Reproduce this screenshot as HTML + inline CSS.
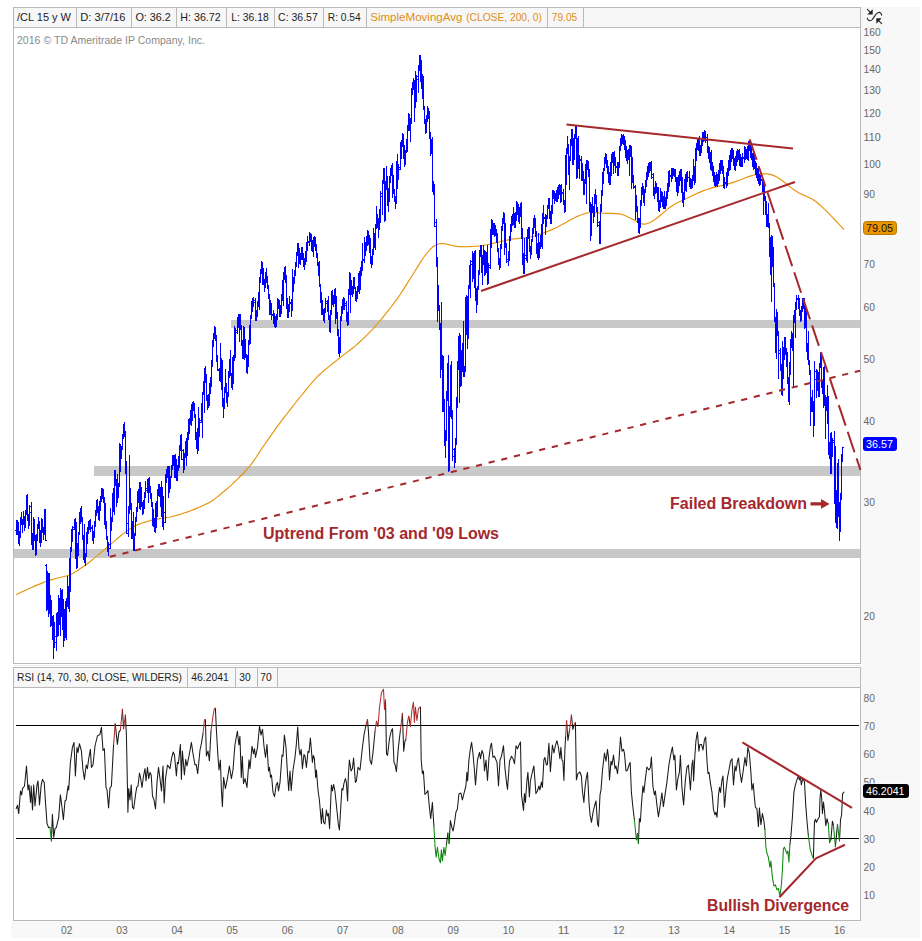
<!DOCTYPE html>
<html><head><meta charset="utf-8"><title>/CL 15 y W</title>
<style>html,body{margin:0;padding:0;background:#fff;width:922px;height:941px;overflow:hidden;font-family:"Liberation Sans",sans-serif}</style></head>
<body>
<svg width="922" height="941" viewBox="0 0 922 941" style="position:absolute;left:0;top:0;font-family:'Liberation Sans',sans-serif">
<rect width="922" height="941" fill="#fff"/>
<rect x="861" y="7" width="59" height="931" fill="#f8f8f8"/>
<rect x="11" y="921" width="909" height="17" fill="#f8f8f8"/>
<rect x="13.5" y="7.5" width="847" height="20" fill="#f7f7f7" stroke="#b9b9b9"/>
<rect x="13.5" y="667.5" width="847" height="20" fill="#f7f7f7" stroke="#b9b9b9"/>
<g fill="#b9b9b9" shape-rendering="crispEdges">
<rect x="13" y="28" width="1" height="636"/>
<rect x="860" y="28" width="1" height="636"/>
<rect x="13" y="663" width="848" height="1"/>
<rect x="13" y="688" width="1" height="233"/>
<rect x="860" y="688" width="1" height="233"/>
<rect x="13" y="920" width="848" height="1"/>
<rect x="76" y="8" width="1" height="19"/>
<rect x="131" y="8" width="1" height="19"/>
<rect x="176" y="8" width="1" height="19"/>
<rect x="226" y="8" width="1" height="19"/>
<rect x="274" y="8" width="1" height="19"/>
<rect x="323" y="8" width="1" height="19"/>
<rect x="366" y="8" width="1" height="19"/>
<rect x="547" y="8" width="1" height="19"/>
<rect x="583" y="8" width="1" height="19"/>
<rect x="187" y="668" width="1" height="19"/>
<rect x="235" y="668" width="1" height="19"/>
<rect x="257" y="668" width="1" height="19"/>
<rect x="277" y="668" width="1" height="19"/>
</g>
<rect x="14" y="665" width="846" height="1" fill="#ececec" shape-rendering="crispEdges"/>
<g fill="#c8c8c8" shape-rendering="crispEdges">
<rect x="231" y="320" width="629" height="8"/>
<rect x="94" y="466" width="766" height="10"/>
<rect x="14" y="549" width="846" height="9"/>
</g>
<polyline fill="none" stroke="#e8940a" stroke-width="1.15" stroke-linejoin="round"  points="16.0,594.7 19.0,593.3 22.0,591.8 25.0,590.4 28.0,589.0 31.0,587.7 34.0,586.4 37.0,585.1 40.0,583.9 43.0,582.6 46.0,581.5 49.0,580.4 52.0,579.6 55.0,578.8 58.0,578.0 61.0,577.3 64.0,576.5 67.0,575.7 70.0,574.7 73.0,573.3 76.0,571.5 79.0,569.6 82.0,567.6 85.0,565.5 88.0,563.2 91.0,560.8 94.0,558.4 97.0,555.9 100.0,553.4 103.0,550.8 106.0,548.3 109.0,545.7 112.0,543.1 115.0,540.6 118.0,538.0 121.0,535.5 124.0,533.1 127.0,530.8 130.0,528.8 133.0,526.9 136.0,525.4 139.0,524.1 142.0,523.0 145.0,522.1 148.0,521.2 151.0,520.4 154.0,519.7 157.0,519.1 160.0,518.6 163.0,518.2 166.0,517.7 169.0,517.2 172.0,516.5 175.0,515.7 178.0,514.9 181.0,514.0 184.0,513.0 187.0,512.1 190.0,511.0 193.0,509.9 196.0,508.6 199.0,507.3 202.0,506.0 205.0,504.6 208.0,503.2 211.0,501.4 214.0,499.4 217.0,497.1 220.0,494.7 223.0,492.2 226.0,489.7 229.0,487.1 232.0,484.4 235.0,481.5 238.0,478.6 241.0,475.5 244.0,472.5 247.0,469.4 250.0,465.9 253.0,461.9 256.0,457.5 259.0,452.9 262.0,448.4 265.0,444.0 268.0,439.7 271.0,435.4 274.0,431.2 277.0,426.9 280.0,422.8 283.0,418.8 286.0,415.0 289.0,411.1 292.0,407.3 295.0,403.5 298.0,399.7 301.0,396.0 304.0,392.3 307.0,388.6 310.0,385.0 313.0,381.4 316.0,378.1 319.0,375.0 322.0,372.4 325.0,369.8 328.0,367.4 331.0,364.9 334.0,362.5 337.0,360.1 340.0,357.7 343.0,355.4 346.0,353.1 349.0,350.8 352.0,348.5 355.0,346.1 358.0,343.5 361.0,340.8 364.0,337.8 367.0,334.9 370.0,331.8 373.0,328.8 376.0,325.5 379.0,322.0 382.0,318.3 385.0,314.6 388.0,310.8 391.0,307.0 394.0,303.2 397.0,299.1 400.0,294.7 403.0,290.1 406.0,285.4 409.0,280.6 412.0,275.8 415.0,271.0 418.0,266.1 421.0,261.4 424.0,257.0 427.0,253.0 430.0,249.5 433.0,246.7 436.0,244.9 439.0,243.8 442.0,243.5 445.0,243.7 448.0,244.4 451.0,245.2 454.0,245.9 457.0,246.4 460.0,246.6 463.0,246.6 466.0,246.7 469.0,246.6 472.0,246.5 475.0,246.3 478.0,246.1 481.0,245.7 484.0,245.2 487.0,244.7 490.0,244.1 493.0,243.4 496.0,242.7 499.0,242.0 502.0,241.3 505.0,240.5 508.0,239.9 511.0,239.3 514.0,238.9 517.0,238.6 520.0,238.2 523.0,237.9 526.0,237.6 529.0,237.2 532.0,236.6 535.0,235.8 538.0,234.9 541.0,233.9 544.0,232.8 547.0,231.6 550.0,230.4 553.0,229.1 556.0,227.7 559.0,226.2 562.0,224.6 565.0,222.9 568.0,221.2 571.0,219.6 574.0,218.0 577.0,216.6 580.0,215.3 583.0,214.2 586.0,213.3 589.0,212.7 592.0,212.5 595.0,212.6 598.0,212.9 601.0,213.1 604.0,213.3 607.0,213.4 610.0,213.4 613.0,213.4 616.0,213.6 619.0,213.9 622.0,214.5 625.0,215.5 628.0,216.9 631.0,218.4 634.0,220.1 637.0,221.7 640.0,223.2 643.0,224.1 646.0,224.0 649.0,223.0 652.0,221.4 655.0,219.5 658.0,217.3 661.0,214.8 664.0,212.1 667.0,209.6 670.0,207.3 673.0,205.3 676.0,203.5 679.0,202.0 682.0,200.6 685.0,199.2 688.0,197.8 691.0,196.3 694.0,194.8 697.0,193.4 700.0,192.1 703.0,190.9 706.0,189.8 709.0,188.9 712.0,187.9 715.0,187.1 718.0,186.4 721.0,185.7 724.0,185.0 727.0,184.2 730.0,183.4 733.0,182.4 736.0,181.4 739.0,180.3 742.0,179.2 745.0,178.0 748.0,176.9 751.0,175.9 754.0,175.0 757.0,174.4 760.0,174.0 763.0,173.8 766.0,173.8 769.0,174.1 772.0,174.9 775.0,176.1 778.0,177.7 781.0,179.7 784.0,182.0 787.0,184.4 790.0,186.9 793.0,189.1 796.0,191.1 799.0,192.9 802.0,194.4 805.0,195.7 808.0,197.0 811.0,198.5 814.0,200.3 817.0,202.5 820.0,205.0 823.0,207.8 826.0,210.7 829.0,213.7 832.0,216.9 835.0,220.0 838.0,223.2 841.0,226.4 843.8,229.5"/>
<path fill="#0000ff" shape-rendering="crispEdges" d="M16 520h1V535h-1zM15 530h1v1h-1zM17 525h1v1h-1zM17 520h1V535h-1zM16 527h1v1h-1zM18 526h1v1h-1zM18 522h1V544h-1zM17 523h1v1h-1zM19 542h1v1h-1zM19 531h1V546h-1zM18 539h1v1h-1zM20 534h1v1h-1zM20 517h1V538h-1zM19 537h1v1h-1zM21 517h1v1h-1zM21 512h1V525h-1zM20 520h1v1h-1zM22 524h1v1h-1zM22 519h1V533h-1zM21 522h1v1h-1zM23 521h1v1h-1zM23 511h1V525h-1zM22 524h1v1h-1zM24 519h1v1h-1zM24 516h1V531h-1zM23 516h1v1h-1zM25 524h1v1h-1zM25 510h1V528h-1zM24 527h1v1h-1zM26 510h1v1h-1zM26 495h1V515h-1zM25 512h1v1h-1zM27 496h1v1h-1zM27 494h1V521h-1zM26 498h1v1h-1zM28 520h1v1h-1zM28 514h1V529h-1zM27 518h1v1h-1zM29 521h1v1h-1zM29 505h1V526h-1zM28 525h1v1h-1zM30 512h1v1h-1zM31 502h1V545h-1zM30 506h1v1h-1zM32 544h1v1h-1zM32 533h1V550h-1zM31 539h1v1h-1zM33 535h1v1h-1zM33 517h1V550h-1zM32 538h1v1h-1zM34 520h1v1h-1zM34 519h1V541h-1zM33 521h1v1h-1zM35 540h1v1h-1zM35 535h1V556h-1zM34 537h1v1h-1zM36 551h1v1h-1zM36 534h1V555h-1zM35 554h1v1h-1zM37 536h1v1h-1zM37 524h1V541h-1zM36 539h1v1h-1zM38 524h1v1h-1zM38 517h1V529h-1zM37 526h1v1h-1zM39 526h1v1h-1zM39 521h1V543h-1zM38 524h1v1h-1zM40 542h1v1h-1zM40 530h1V547h-1zM39 540h1v1h-1zM41 538h1v1h-1zM41 518h1V543h-1zM40 540h1v1h-1zM42 525h1v1h-1zM42 519h1V533h-1zM41 528h1v1h-1zM43 529h1v1h-1zM43 527h1V540h-1zM42 527h1v1h-1zM44 531h1v1h-1zM44 509h1V535h-1zM43 534h1v1h-1zM45 515h1v1h-1zM45 509h1V541h-1zM44 512h1v1h-1zM46 540h1v1h-1zM46 564h1V611h-1zM45 565h1v1h-1zM47 605h1v1h-1zM47 571h1V610h-1zM46 604h1v1h-1zM48 582h1v1h-1zM48 573h1V617h-1zM47 575h1v1h-1zM49 606h1v1h-1zM49 573h1V614h-1zM48 613h1v1h-1zM50 604h1v1h-1zM50 595h1V627h-1zM49 597h1v1h-1zM51 611h1v1h-1zM51 600h1V626h-1zM50 616h1v1h-1zM52 625h1v1h-1zM52 616h1V640h-1zM51 617h1v1h-1zM53 619h1v1h-1zM53 615h1V659h-1zM52 625h1v1h-1zM54 641h1v1h-1zM54 622h1V648h-1zM53 647h1v1h-1zM55 642h1v1h-1zM56 613h1V651h-1zM55 636h1v1h-1zM57 614h1v1h-1zM57 612h1V637h-1zM56 620h1v1h-1zM58 634h1v1h-1zM58 595h1V636h-1zM57 630h1v1h-1zM59 602h1v1h-1zM59 598h1V625h-1zM58 604h1v1h-1zM60 619h1v1h-1zM60 588h1V636h-1zM59 623h1v1h-1zM61 597h1v1h-1zM61 590h1V617h-1zM60 592h1v1h-1zM62 607h1v1h-1zM62 589h1V630h-1zM61 612h1v1h-1zM63 612h1v1h-1zM63 599h1V647h-1zM62 602h1v1h-1zM64 626h1v1h-1zM64 609h1V641h-1zM63 634h1v1h-1zM65 633h1v1h-1zM65 601h1V638h-1zM64 627h1v1h-1zM66 612h1v1h-1zM66 598h1V640h-1zM65 605h1v1h-1zM67 601h1v1h-1zM67 576h1V607h-1zM66 606h1v1h-1zM68 604h1v1h-1zM68 586h1V609h-1zM67 601h1v1h-1zM69 594h1v1h-1zM69 558h1V612h-1zM68 591h1v1h-1zM70 560h1v1h-1zM70 547h1V592h-1zM69 567h1v1h-1zM71 548h1v1h-1zM71 529h1V552h-1zM70 550h1v1h-1zM72 539h1v1h-1zM72 526h1V542h-1zM71 541h1v1h-1zM73 527h1v1h-1zM74 519h1V530h-1zM73 529h1v1h-1zM75 520h1v1h-1zM75 518h1V559h-1zM74 521h1v1h-1zM76 547h1v1h-1zM76 522h1V569h-1zM75 541h1v1h-1zM77 563h1v1h-1zM77 543h1V568h-1zM76 566h1v1h-1zM78 545h1v1h-1zM78 532h1V556h-1zM77 548h1v1h-1zM79 533h1v1h-1zM79 512h1V535h-1zM78 534h1v1h-1zM80 521h1v1h-1zM80 508h1V524h-1zM79 523h1v1h-1zM81 509h1v1h-1zM81 506h1V522h-1zM80 511h1v1h-1zM82 521h1v1h-1zM82 517h1V540h-1zM81 517h1v1h-1zM83 538h1v1h-1zM83 535h1V560h-1zM82 536h1v1h-1zM84 552h1v1h-1zM84 524h1V563h-1zM83 550h1v1h-1zM85 561h1v1h-1zM85 553h1V566h-1zM84 560h1v1h-1zM86 554h1v1h-1zM86 532h1V557h-1zM85 556h1v1h-1zM87 539h1v1h-1zM87 527h1V544h-1zM86 541h1v1h-1zM88 530h1v1h-1zM88 521h1V534h-1zM87 530h1v1h-1zM89 525h1v1h-1zM89 520h1V530h-1zM88 526h1v1h-1zM90 521h1v1h-1zM90 519h1V532h-1zM89 522h1v1h-1zM91 528h1v1h-1zM92 525h1V541h-1zM91 527h1v1h-1zM93 539h1v1h-1zM93 531h1V544h-1zM92 537h1v1h-1zM94 534h1v1h-1zM94 521h1V538h-1zM93 536h1v1h-1zM95 523h1v1h-1zM95 510h1V527h-1zM94 525h1v1h-1zM96 512h1v1h-1zM96 500h1V516h-1zM95 514h1v1h-1zM97 501h1v1h-1zM97 499h1V513h-1zM96 503h1v1h-1zM98 509h1v1h-1zM98 506h1V520h-1zM97 507h1v1h-1zM99 519h1v1h-1zM99 501h1V521h-1zM98 518h1v1h-1zM100 509h1v1h-1zM100 496h1V511h-1zM99 510h1v1h-1zM101 498h1v1h-1zM101 488h1V502h-1zM100 499h1v1h-1zM102 490h1v1h-1zM102 488h1V499h-1zM101 489h1v1h-1zM103 494h1v1h-1zM103 489h1V503h-1zM102 493h1v1h-1zM104 498h1v1h-1zM104 497h1V525h-1zM103 497h1v1h-1zM105 509h1v1h-1zM105 503h1V529h-1zM104 506h1v1h-1zM106 526h1v1h-1zM106 521h1V540h-1zM105 523h1v1h-1zM107 539h1v1h-1zM107 536h1V552h-1zM106 537h1v1h-1zM108 548h1v1h-1zM108 542h1V556h-1zM107 546h1v1h-1zM109 544h1v1h-1zM110 508h1V549h-1zM109 548h1v1h-1zM111 527h1v1h-1zM111 517h1V531h-1zM110 529h1v1h-1zM112 518h1v1h-1zM112 493h1V522h-1zM111 519h1v1h-1zM113 509h1v1h-1zM113 488h1V512h-1zM112 510h1v1h-1zM114 498h1v1h-1zM114 470h1V515h-1zM113 502h1v1h-1zM115 472h1v1h-1zM115 470h1V486h-1zM114 476h1v1h-1zM116 484h1v1h-1zM116 479h1V507h-1zM115 482h1v1h-1zM117 497h1v1h-1zM117 474h1V503h-1zM116 495h1v1h-1zM118 494h1v1h-1zM118 483h1V498h-1zM117 496h1v1h-1zM119 484h1v1h-1zM119 443h1V487h-1zM118 486h1v1h-1zM120 469h1v1h-1zM120 444h1V472h-1zM119 471h1v1h-1zM121 456h1v1h-1zM121 446h1V459h-1zM120 458h1v1h-1zM122 447h1v1h-1zM122 434h1V450h-1zM121 448h1v1h-1zM123 436h1v1h-1zM123 424h1V439h-1zM122 438h1v1h-1zM124 425h1v1h-1zM124 422h1V437h-1zM123 427h1v1h-1zM125 435h1v1h-1zM125 431h1V474h-1zM124 432h1v1h-1zM126 473h1v1h-1zM126 461h1V534h-1zM125 463h1v1h-1zM127 533h1v1h-1zM128 506h1V537h-1zM127 523h1v1h-1zM129 508h1v1h-1zM129 455h1V514h-1zM128 512h1v1h-1zM130 490h1v1h-1zM130 488h1V510h-1zM129 491h1v1h-1zM131 508h1v1h-1zM131 503h1V539h-1zM130 505h1v1h-1zM132 524h1v1h-1zM132 521h1V539h-1zM131 522h1v1h-1zM133 538h1v1h-1zM133 512h1V551h-1zM132 537h1v1h-1zM134 548h1v1h-1zM134 533h1V551h-1zM133 550h1v1h-1zM135 533h1v1h-1zM135 517h1V536h-1zM134 535h1v1h-1zM136 520h1v1h-1zM136 507h1V522h-1zM135 521h1v1h-1zM137 509h1v1h-1zM137 491h1V512h-1zM136 511h1v1h-1zM138 499h1v1h-1zM138 489h1V503h-1zM137 500h1v1h-1zM139 492h1v1h-1zM139 482h1V509h-1zM138 493h1v1h-1zM140 484h1v1h-1zM140 482h1V510h-1zM139 486h1v1h-1zM141 492h1v1h-1zM141 487h1V507h-1zM140 489h1v1h-1zM142 506h1v1h-1zM142 502h1V515h-1zM141 503h1v1h-1zM143 511h1v1h-1zM143 500h1V514h-1zM142 512h1v1h-1zM144 503h1v1h-1zM144 492h1V509h-1zM143 504h1v1h-1zM145 495h1v1h-1zM145 481h1V498h-1zM144 496h1v1h-1zM146 488h1v1h-1zM147 479h1V493h-1zM146 490h1v1h-1zM148 482h1v1h-1zM148 478h1V503h-1zM147 483h1v1h-1zM149 481h1v1h-1zM149 477h1V493h-1zM148 479h1v1h-1zM150 489h1v1h-1zM150 486h1V499h-1zM149 488h1v1h-1zM151 498h1v1h-1zM151 493h1V507h-1zM150 496h1v1h-1zM152 506h1v1h-1zM152 502h1V526h-1zM151 505h1v1h-1zM153 514h1v1h-1zM153 509h1V527h-1zM152 513h1v1h-1zM154 521h1v1h-1zM154 518h1V532h-1zM153 520h1v1h-1zM155 529h1v1h-1zM155 503h1V533h-1zM154 528h1v1h-1zM156 523h1v1h-1zM156 501h1V528h-1zM155 527h1v1h-1zM157 503h1v1h-1zM157 489h1V517h-1zM156 505h1v1h-1zM158 491h1v1h-1zM158 484h1V496h-1zM157 493h1v1h-1zM159 487h1v1h-1zM159 484h1V497h-1zM158 486h1v1h-1zM160 495h1v1h-1zM160 487h1V507h-1zM159 494h1v1h-1zM161 504h1v1h-1zM161 481h1V517h-1zM160 503h1v1h-1zM162 515h1v1h-1zM162 487h1V527h-1zM161 513h1v1h-1zM163 524h1v1h-1zM163 496h1V530h-1zM162 523h1v1h-1zM164 512h1v1h-1zM165 474h1V523h-1zM164 522h1v1h-1zM166 479h1v1h-1zM166 469h1V483h-1zM165 482h1v1h-1zM167 471h1v1h-1zM167 466h1V478h-1zM166 472h1v1h-1zM168 469h1v1h-1zM168 466h1V498h-1zM167 469h1v1h-1zM169 470h1v1h-1zM169 466h1V493h-1zM168 467h1v1h-1zM170 488h1v1h-1zM170 476h1V489h-1zM169 485h1v1h-1zM171 476h1v1h-1zM171 465h1V478h-1zM170 477h1v1h-1zM172 467h1v1h-1zM172 455h1V470h-1zM171 468h1v1h-1zM173 459h1v1h-1zM173 455h1V466h-1zM172 461h1v1h-1zM174 460h1v1h-1zM174 455h1V478h-1zM173 459h1v1h-1zM175 468h1v1h-1zM175 454h1V478h-1zM174 466h1v1h-1zM176 474h1v1h-1zM176 459h1V481h-1zM175 473h1v1h-1zM177 479h1v1h-1zM177 465h1V481h-1zM176 480h1v1h-1zM178 467h1v1h-1zM178 456h1V471h-1zM177 469h1v1h-1zM179 456h1v1h-1zM179 445h1V468h-1zM178 458h1v1h-1zM180 447h1v1h-1zM180 435h1V451h-1zM179 448h1v1h-1zM181 438h1v1h-1zM181 434h1V460h-1zM180 440h1v1h-1zM182 459h1v1h-1zM183 449h1V473h-1zM182 450h1v1h-1zM184 465h1v1h-1zM184 453h1V470h-1zM183 467h1v1h-1zM185 453h1v1h-1zM185 441h1V458h-1zM184 455h1v1h-1zM186 446h1v1h-1zM186 438h1V466h-1zM185 447h1v1h-1zM187 441h1v1h-1zM187 432h1V456h-1zM186 442h1v1h-1zM188 436h1v1h-1zM188 419h1V440h-1zM187 437h1v1h-1zM189 428h1v1h-1zM189 418h1V434h-1zM188 430h1v1h-1zM190 420h1v1h-1zM190 410h1V425h-1zM189 421h1v1h-1zM191 413h1v1h-1zM191 404h1V426h-1zM190 414h1v1h-1zM192 407h1v1h-1zM192 402h1V421h-1zM191 407h1v1h-1zM193 405h1v1h-1zM193 401h1V411h-1zM192 405h1v1h-1zM194 403h1v1h-1zM194 403h1V418h-1zM193 404h1v1h-1zM195 417h1v1h-1zM195 414h1V440h-1zM194 415h1v1h-1zM196 434h1v1h-1zM196 432h1V449h-1zM195 432h1v1h-1zM197 446h1v1h-1zM197 428h1V454h-1zM196 444h1v1h-1zM198 446h1v1h-1zM198 407h1V451h-1zM197 448h1v1h-1zM199 433h1v1h-1zM199 418h1V437h-1zM198 436h1v1h-1zM200 420h1v1h-1zM201 403h1V423h-1zM200 422h1v1h-1zM202 405h1v1h-1zM202 392h1V438h-1zM201 407h1v1h-1zM203 393h1v1h-1zM203 381h1V395h-1zM202 394h1v1h-1zM204 382h1v1h-1zM204 368h1V413h-1zM203 384h1v1h-1zM205 370h1v1h-1zM205 366h1V383h-1zM204 372h1v1h-1zM206 382h1v1h-1zM206 374h1V401h-1zM205 380h1v1h-1zM207 400h1v1h-1zM207 395h1V410h-1zM206 397h1v1h-1zM208 404h1v1h-1zM208 394h1V408h-1zM207 406h1v1h-1zM209 395h1v1h-1zM209 383h1V406h-1zM208 396h1v1h-1zM210 389h1v1h-1zM210 377h1V394h-1zM209 390h1v1h-1zM211 381h1v1h-1zM211 360h1V387h-1zM210 385h1v1h-1zM212 362h1v1h-1zM212 340h1V367h-1zM211 365h1v1h-1zM213 342h1v1h-1zM213 333h1V347h-1zM212 345h1v1h-1zM214 335h1v1h-1zM214 326h1V339h-1zM213 336h1v1h-1zM215 329h1v1h-1zM215 327h1V341h-1zM214 330h1v1h-1zM216 339h1v1h-1zM216 335h1V362h-1zM215 335h1v1h-1zM217 360h1v1h-1zM217 355h1V371h-1zM216 357h1v1h-1zM218 370h1v1h-1zM219 368h1V381h-1zM218 369h1v1h-1zM220 379h1v1h-1zM220 343h1V382h-1zM219 379h1v1h-1zM221 367h1v1h-1zM221 358h1V390h-1zM220 369h1v1h-1zM222 367h1v1h-1zM222 360h1V407h-1zM221 361h1v1h-1zM223 404h1v1h-1zM223 398h1V418h-1zM222 398h1v1h-1zM224 406h1v1h-1zM224 387h1V409h-1zM223 408h1v1h-1zM225 389h1v1h-1zM225 369h1V393h-1zM224 392h1v1h-1zM226 387h1v1h-1zM226 383h1V403h-1zM225 385h1v1h-1zM227 402h1v1h-1zM227 392h1V407h-1zM226 400h1v1h-1zM228 393h1v1h-1zM228 371h1V397h-1zM227 396h1v1h-1zM229 372h1v1h-1zM229 359h1V378h-1zM228 376h1v1h-1zM230 365h1v1h-1zM230 350h1V376h-1zM229 363h1v1h-1zM231 375h1v1h-1zM231 373h1V388h-1zM230 374h1v1h-1zM232 387h1v1h-1zM232 357h1V390h-1zM231 386h1v1h-1zM233 374h1v1h-1zM233 355h1V384h-1zM232 377h1v1h-1zM234 357h1v1h-1zM234 326h1V361h-1zM233 360h1v1h-1zM235 340h1v1h-1zM235 328h1V358h-1zM234 342h1v1h-1zM236 330h1v1h-1zM237 317h1V334h-1zM236 332h1v1h-1zM238 320h1v1h-1zM238 314h1V328h-1zM237 322h1v1h-1zM239 317h1v1h-1zM239 314h1V342h-1zM238 317h1v1h-1zM240 315h1v1h-1zM240 314h1V330h-1zM239 315h1v1h-1zM241 329h1v1h-1zM241 325h1V346h-1zM240 326h1v1h-1zM242 344h1v1h-1zM242 340h1V359h-1zM241 342h1v1h-1zM243 354h1v1h-1zM243 326h1V359h-1zM242 357h1v1h-1zM244 328h1v1h-1zM244 327h1V360h-1zM243 333h1v1h-1zM245 343h1v1h-1zM245 339h1V358h-1zM244 340h1v1h-1zM246 357h1v1h-1zM246 354h1V373h-1zM245 355h1v1h-1zM247 372h1v1h-1zM247 355h1V374h-1zM246 370h1v1h-1zM248 357h1v1h-1zM248 340h1V367h-1zM247 360h1v1h-1zM249 341h1v1h-1zM249 325h1V345h-1zM248 344h1v1h-1zM250 327h1v1h-1zM250 315h1V344h-1zM249 328h1v1h-1zM251 316h1v1h-1zM251 301h1V319h-1zM250 318h1v1h-1zM252 306h1v1h-1zM252 298h1V312h-1zM251 308h1v1h-1zM253 301h1v1h-1zM253 297h1V307h-1zM252 302h1v1h-1zM254 302h1v1h-1zM255 298h1V321h-1zM254 300h1v1h-1zM256 319h1v1h-1zM256 310h1V321h-1zM255 316h1v1h-1zM257 312h1v1h-1zM257 301h1V317h-1zM256 313h1v1h-1zM258 304h1v1h-1zM258 292h1V307h-1zM257 305h1v1h-1zM259 294h1v1h-1zM259 277h1V310h-1zM258 296h1v1h-1zM260 278h1v1h-1zM260 269h1V283h-1zM259 281h1v1h-1zM261 270h1v1h-1zM261 261h1V274h-1zM260 271h1v1h-1zM262 264h1v1h-1zM262 262h1V285h-1zM261 265h1v1h-1zM263 270h1v1h-1zM263 268h1V285h-1zM262 268h1v1h-1zM264 282h1v1h-1zM264 279h1V292h-1zM263 280h1v1h-1zM265 286h1v1h-1zM265 272h1V288h-1zM264 287h1v1h-1zM266 274h1v1h-1zM266 268h1V283h-1zM265 276h1v1h-1zM267 279h1v1h-1zM267 276h1V289h-1zM266 277h1v1h-1zM268 288h1v1h-1zM268 285h1V299h-1zM267 287h1v1h-1zM269 298h1v1h-1zM269 294h1V315h-1zM268 297h1v1h-1zM270 305h1v1h-1zM270 300h1V315h-1zM269 304h1v1h-1zM271 310h1v1h-1zM271 303h1V320h-1zM270 309h1v1h-1zM272 315h1v1h-1zM273 310h1V324h-1zM272 314h1v1h-1zM274 319h1v1h-1zM274 313h1V327h-1zM273 318h1v1h-1zM275 322h1v1h-1zM275 316h1V328h-1zM274 321h1v1h-1zM276 325h1v1h-1zM276 314h1V327h-1zM275 324h1v1h-1zM277 317h1v1h-1zM277 298h1V320h-1zM276 319h1v1h-1zM278 299h1v1h-1zM278 299h1V309h-1zM277 301h1v1h-1zM279 306h1v1h-1zM279 300h1V317h-1zM278 305h1v1h-1zM280 312h1v1h-1zM280 305h1V317h-1zM279 311h1v1h-1zM281 311h1v1h-1zM281 294h1V314h-1zM280 313h1v1h-1zM282 296h1v1h-1zM282 280h1V301h-1zM281 299h1v1h-1zM283 283h1v1h-1zM283 272h1V306h-1zM282 284h1v1h-1zM284 276h1v1h-1zM284 267h1V280h-1zM283 277h1v1h-1zM285 268h1v1h-1zM285 266h1V283h-1zM284 269h1v1h-1zM286 281h1v1h-1zM286 275h1V309h-1zM285 278h1v1h-1zM287 301h1v1h-1zM287 298h1V318h-1zM286 298h1v1h-1zM288 317h1v1h-1zM288 304h1V318h-1zM287 315h1v1h-1zM289 306h1v1h-1zM289 296h1V312h-1zM288 308h1v1h-1zM290 303h1v1h-1zM291 299h1V317h-1zM290 302h1v1h-1zM292 310h1v1h-1zM292 269h1V310h-1zM291 309h1v1h-1zM293 287h1v1h-1zM293 277h1V292h-1zM292 288h1v1h-1zM294 280h1v1h-1zM294 270h1V284h-1zM293 281h1v1h-1zM295 273h1v1h-1zM295 262h1V276h-1zM294 274h1v1h-1zM296 264h1v1h-1zM296 252h1V267h-1zM295 266h1v1h-1zM297 253h1v1h-1zM297 243h1V256h-1zM296 255h1v1h-1zM298 246h1v1h-1zM298 243h1V268h-1zM297 244h1v1h-1zM299 256h1v1h-1zM299 248h1V264h-1zM298 255h1v1h-1zM300 262h1v1h-1zM300 253h1V265h-1zM299 263h1v1h-1zM301 255h1v1h-1zM301 247h1V260h-1zM300 256h1v1h-1zM302 248h1v1h-1zM302 247h1V260h-1zM301 249h1v1h-1zM303 257h1v1h-1zM303 253h1V267h-1zM302 256h1v1h-1zM304 266h1v1h-1zM304 258h1V270h-1zM303 264h1v1h-1zM305 263h1v1h-1zM305 251h1V265h-1zM304 264h1v1h-1zM306 253h1v1h-1zM306 242h1V262h-1zM305 255h1v1h-1zM307 246h1v1h-1zM307 236h1V251h-1zM306 247h1v1h-1zM308 241h1v1h-1zM309 232h1V246h-1zM308 242h1v1h-1zM310 236h1v1h-1zM310 233h1V242h-1zM309 237h1v1h-1zM311 237h1v1h-1zM311 234h1V251h-1zM310 235h1v1h-1zM312 249h1v1h-1zM312 240h1V252h-1zM311 247h1v1h-1zM313 247h1v1h-1zM313 237h1V257h-1zM312 248h1v1h-1zM314 240h1v1h-1zM314 236h1V247h-1zM313 241h1v1h-1zM315 241h1v1h-1zM315 237h1V251h-1zM314 239h1v1h-1zM316 248h1v1h-1zM316 244h1V258h-1zM315 247h1v1h-1zM317 256h1v1h-1zM317 253h1V266h-1zM316 255h1v1h-1zM318 265h1v1h-1zM318 262h1V276h-1zM317 264h1v1h-1zM319 275h1v1h-1zM319 261h1V287h-1zM318 274h1v1h-1zM320 286h1v1h-1zM320 284h1V303h-1zM319 284h1v1h-1zM321 296h1v1h-1zM321 292h1V315h-1zM320 294h1v1h-1zM322 305h1v1h-1zM322 300h1V315h-1zM321 304h1v1h-1zM323 314h1v1h-1zM323 309h1V321h-1zM322 312h1v1h-1zM324 318h1v1h-1zM324 308h1V323h-1zM323 319h1v1h-1zM325 310h1v1h-1zM325 298h1V313h-1zM324 311h1v1h-1zM326 301h1v1h-1zM327 300h1V312h-1zM326 303h1v1h-1zM328 309h1v1h-1zM328 296h1V320h-1zM327 307h1v1h-1zM329 319h1v1h-1zM329 315h1V332h-1zM328 317h1v1h-1zM330 329h1v1h-1zM330 310h1V333h-1zM329 328h1v1h-1zM331 310h1v1h-1zM331 291h1V315h-1zM330 314h1v1h-1zM332 293h1v1h-1zM332 290h1V305h-1zM331 292h1v1h-1zM333 301h1v1h-1zM333 295h1V307h-1zM332 299h1v1h-1zM334 301h1v1h-1zM334 289h1V304h-1zM333 302h1v1h-1zM335 291h1v1h-1zM335 288h1V324h-1zM334 292h1v1h-1zM336 301h1v1h-1zM336 296h1V319h-1zM335 298h1v1h-1zM337 316h1v1h-1zM337 312h1V336h-1zM336 313h1v1h-1zM338 334h1v1h-1zM338 329h1V354h-1zM337 330h1v1h-1zM339 351h1v1h-1zM339 337h1V357h-1zM338 348h1v1h-1zM340 338h1v1h-1zM340 316h1V353h-1zM339 343h1v1h-1zM341 317h1v1h-1zM341 306h1V321h-1zM340 318h1v1h-1zM342 309h1v1h-1zM342 299h1V314h-1zM341 311h1v1h-1zM343 304h1v1h-1zM343 297h1V310h-1zM342 305h1v1h-1zM344 300h1v1h-1zM344 298h1V310h-1zM343 301h1v1h-1zM345 305h1v1h-1zM346 301h1V322h-1zM345 303h1v1h-1zM347 316h1v1h-1zM347 312h1V326h-1zM346 314h1v1h-1zM348 319h1v1h-1zM348 289h1V325h-1zM347 324h1v1h-1zM349 290h1v1h-1zM349 272h1V295h-1zM348 294h1v1h-1zM350 277h1v1h-1zM350 273h1V313h-1zM349 275h1v1h-1zM351 285h1v1h-1zM351 280h1V295h-1zM350 284h1v1h-1zM352 294h1v1h-1zM352 286h1V297h-1zM351 292h1v1h-1zM353 290h1v1h-1zM353 277h1V294h-1zM352 292h1v1h-1zM354 279h1v1h-1zM354 277h1V289h-1zM353 279h1v1h-1zM355 288h1v1h-1zM355 287h1V301h-1zM354 287h1v1h-1zM356 299h1v1h-1zM356 291h1V302h-1zM355 297h1v1h-1zM357 296h1v1h-1zM357 286h1V299h-1zM356 298h1v1h-1zM358 288h1v1h-1zM358 273h1V292h-1zM357 290h1v1h-1zM359 280h1v1h-1zM359 271h1V294h-1zM358 282h1v1h-1zM360 275h1v1h-1zM360 267h1V290h-1zM359 276h1v1h-1zM361 272h1v1h-1zM361 261h1V276h-1zM360 272h1v1h-1zM362 266h1v1h-1zM362 243h1V271h-1zM361 267h1v1h-1zM363 259h1v1h-1zM364 237h1V263h-1zM363 260h1v1h-1zM365 252h1v1h-1zM365 242h1V256h-1zM364 253h1v1h-1zM366 246h1v1h-1zM366 236h1V251h-1zM365 247h1v1h-1zM367 240h1v1h-1zM367 230h1V246h-1zM366 241h1v1h-1zM368 234h1v1h-1zM368 231h1V245h-1zM367 235h1v1h-1zM369 240h1v1h-1zM369 235h1V253h-1zM368 238h1v1h-1zM370 251h1v1h-1zM370 238h1V264h-1zM369 249h1v1h-1zM371 263h1v1h-1zM371 256h1V268h-1zM370 261h1v1h-1zM372 261h1v1h-1zM372 249h1V265h-1zM371 263h1v1h-1zM373 253h1v1h-1zM373 228h1V255h-1zM372 254h1v1h-1zM374 244h1v1h-1zM374 233h1V248h-1zM373 245h1v1h-1zM375 235h1v1h-1zM375 224h1V250h-1zM374 236h1v1h-1zM376 225h1v1h-1zM376 206h1V229h-1zM375 227h1v1h-1zM377 216h1v1h-1zM377 214h1V228h-1zM376 218h1v1h-1zM378 224h1v1h-1zM378 218h1V238h-1zM377 222h1v1h-1zM379 226h1v1h-1zM379 209h1V230h-1zM378 229h1v1h-1zM380 210h1v1h-1zM380 191h1V223h-1zM379 213h1v1h-1zM381 193h1v1h-1zM382 180h1V215h-1zM381 196h1v1h-1zM383 180h1v1h-1zM383 168h1V184h-1zM382 183h1v1h-1zM384 169h1v1h-1zM384 168h1V222h-1zM383 170h1v1h-1zM385 215h1v1h-1zM385 181h1V221h-1zM384 220h1v1h-1zM386 182h1v1h-1zM386 166h1V190h-1zM385 187h1v1h-1zM387 183h1v1h-1zM387 176h1V206h-1zM386 178h1v1h-1zM388 204h1v1h-1zM388 188h1V212h-1zM387 205h1v1h-1zM389 190h1v1h-1zM389 176h1V202h-1zM388 193h1v1h-1zM390 178h1v1h-1zM390 168h1V183h-1zM389 179h1v1h-1zM391 172h1v1h-1zM391 165h1V176h-1zM390 173h1v1h-1zM392 165h1v1h-1zM392 163h1V198h-1zM391 166h1v1h-1zM393 179h1v1h-1zM393 175h1V194h-1zM392 176h1v1h-1zM394 191h1v1h-1zM394 189h1V202h-1zM393 189h1v1h-1zM395 201h1v1h-1zM395 196h1V209h-1zM394 200h1v1h-1zM396 200h1v1h-1zM396 161h1V204h-1zM395 203h1v1h-1zM397 187h1v1h-1zM397 154h1V189h-1zM396 188h1v1h-1zM398 177h1v1h-1zM398 164h1V180h-1zM397 178h1v1h-1zM399 167h1v1h-1zM400 142h1V170h-1zM399 169h1v1h-1zM401 154h1v1h-1zM401 140h1V159h-1zM400 156h1v1h-1zM402 141h1v1h-1zM402 133h1V147h-1zM401 144h1v1h-1zM403 135h1v1h-1zM403 134h1V159h-1zM402 136h1v1h-1zM404 151h1v1h-1zM404 145h1V167h-1zM403 146h1v1h-1zM405 161h1v1h-1zM405 150h1V165h-1zM404 163h1v1h-1zM406 151h1v1h-1zM406 139h1V153h-1zM405 152h1v1h-1zM407 140h1v1h-1zM407 125h1V152h-1zM406 143h1v1h-1zM408 126h1v1h-1zM408 113h1V131h-1zM407 128h1v1h-1zM409 117h1v1h-1zM409 114h1V131h-1zM408 115h1v1h-1zM410 130h1v1h-1zM410 118h1V142h-1zM409 128h1v1h-1zM411 119h1v1h-1zM411 88h1V124h-1zM410 123h1v1h-1zM412 90h1v1h-1zM412 82h1V95h-1zM411 94h1v1h-1zM413 84h1v1h-1zM413 78h1V90h-1zM412 85h1v1h-1zM414 84h1v1h-1zM414 80h1V122h-1zM413 81h1v1h-1zM415 101h1v1h-1zM415 71h1V108h-1zM414 98h1v1h-1zM416 96h1v1h-1zM416 75h1V102h-1zM415 99h1v1h-1zM417 76h1v1h-1zM418 65h1V93h-1zM417 79h1v1h-1zM419 66h1v1h-1zM419 55h1V71h-1zM418 67h1v1h-1zM420 59h1v1h-1zM420 55h1V82h-1zM419 60h1v1h-1zM421 66h1v1h-1zM421 60h1V89h-1zM420 62h1v1h-1zM422 86h1v1h-1zM422 74h1V99h-1zM421 85h1v1h-1zM423 98h1v1h-1zM423 76h1V110h-1zM422 96h1v1h-1zM424 109h1v1h-1zM424 106h1V124h-1zM423 107h1v1h-1zM425 122h1v1h-1zM425 119h1V134h-1zM424 119h1v1h-1zM426 132h1v1h-1zM426 115h1V133h-1zM425 132h1v1h-1zM427 117h1v1h-1zM427 106h1V122h-1zM426 120h1v1h-1zM428 110h1v1h-1zM428 108h1V119h-1zM427 110h1v1h-1zM429 113h1v1h-1zM429 111h1V139h-1zM428 112h1v1h-1zM430 138h1v1h-1zM430 132h1V156h-1zM429 134h1v1h-1zM431 151h1v1h-1zM431 139h1V154h-1zM430 153h1v1h-1zM432 139h1v1h-1zM432 137h1V192h-1zM431 141h1v1h-1zM433 189h1v1h-1zM433 181h1V195h-1zM432 189h1v1h-1zM434 193h1v1h-1zM434 184h1V227h-1zM433 186h1v1h-1zM435 226h1v1h-1zM436 219h1V267h-1zM435 222h1v1h-1zM437 266h1v1h-1zM437 257h1V322h-1zM436 258h1v1h-1zM438 291h1v1h-1zM438 285h1V311h-1zM437 287h1v1h-1zM439 310h1v1h-1zM439 305h1V330h-1zM438 307h1v1h-1zM440 328h1v1h-1zM440 323h1V378h-1zM439 325h1v1h-1zM441 350h1v1h-1zM441 302h1V370h-1zM440 346h1v1h-1zM442 365h1v1h-1zM442 355h1V412h-1zM441 367h1v1h-1zM443 357h1v1h-1zM443 356h1V412h-1zM442 358h1v1h-1zM444 411h1v1h-1zM444 399h1V446h-1zM443 402h1v1h-1zM445 445h1v1h-1zM445 430h1V458h-1zM444 440h1v1h-1zM446 431h1v1h-1zM446 391h1V441h-1zM445 438h1v1h-1zM447 394h1v1h-1zM447 363h1V401h-1zM446 399h1v1h-1zM448 364h1v1h-1zM448 355h1V472h-1zM447 369h1v1h-1zM449 468h1v1h-1zM449 406h1V471h-1zM448 449h1v1h-1zM450 406h1v1h-1zM450 365h1V417h-1zM449 416h1v1h-1zM451 379h1v1h-1zM451 361h1V419h-1zM450 373h1v1h-1zM452 418h1v1h-1zM452 410h1V461h-1zM451 412h1v1h-1zM453 456h1v1h-1zM454 448h1V468h-1zM453 449h1v1h-1zM455 456h1v1h-1zM455 438h1V463h-1zM454 459h1v1h-1zM456 440h1v1h-1zM456 397h1V445h-1zM455 443h1v1h-1zM457 399h1v1h-1zM457 361h1V408h-1zM456 406h1v1h-1zM458 362h1v1h-1zM458 336h1V370h-1zM457 368h1v1h-1zM459 340h1v1h-1zM459 333h1V403h-1zM458 341h1v1h-1zM460 340h1v1h-1zM460 335h1V387h-1zM459 338h1v1h-1zM461 355h1v1h-1zM461 350h1V386h-1zM460 352h1v1h-1zM462 371h1v1h-1zM462 343h1V372h-1zM461 368h1v1h-1zM463 345h1v1h-1zM463 321h1V377h-1zM462 350h1v1h-1zM464 376h1v1h-1zM464 366h1V377h-1zM463 376h1v1h-1zM465 370h1v1h-1zM465 297h1V372h-1zM464 371h1v1h-1zM466 329h1v1h-1zM466 295h1V335h-1zM465 333h1v1h-1zM467 309h1v1h-1zM467 296h1V349h-1zM466 312h1v1h-1zM468 297h1v1h-1zM468 285h1V339h-1zM467 299h1v1h-1zM469 286h1v1h-1zM469 265h1V289h-1zM468 287h1v1h-1zM470 276h1v1h-1zM470 260h1V298h-1zM469 278h1v1h-1zM471 261h1v1h-1zM472 251h1V282h-1zM471 264h1v1h-1zM473 257h1v1h-1zM473 253h1V279h-1zM472 254h1v1h-1zM474 277h1v1h-1zM474 251h1V288h-1zM473 274h1v1h-1zM475 253h1v1h-1zM475 250h1V301h-1zM474 262h1v1h-1zM476 299h1v1h-1zM476 288h1V313h-1zM475 290h1v1h-1zM477 301h1v1h-1zM477 286h1V305h-1zM476 303h1v1h-1zM478 288h1v1h-1zM478 270h1V290h-1zM477 289h1v1h-1zM479 271h1v1h-1zM479 250h1V275h-1zM478 274h1v1h-1zM480 253h1v1h-1zM480 245h1V257h-1zM479 255h1v1h-1zM481 247h1v1h-1zM481 245h1V273h-1zM480 248h1v1h-1zM482 272h1v1h-1zM482 255h1V285h-1zM481 268h1v1h-1zM483 256h1v1h-1zM483 245h1V265h-1zM482 263h1v1h-1zM484 260h1v1h-1zM484 250h1V276h-1zM483 257h1v1h-1zM485 270h1v1h-1zM485 251h1V275h-1zM484 274h1v1h-1zM486 257h1v1h-1zM486 252h1V273h-1zM485 254h1v1h-1zM487 272h1v1h-1zM487 245h1V285h-1zM486 270h1v1h-1zM488 280h1v1h-1zM488 263h1V284h-1zM487 282h1v1h-1zM489 265h1v1h-1zM490 229h1V269h-1zM489 267h1v1h-1zM491 240h1v1h-1zM491 219h1V248h-1zM490 247h1v1h-1zM492 223h1v1h-1zM492 220h1V235h-1zM491 222h1v1h-1zM493 230h1v1h-1zM493 223h1V235h-1zM492 229h1v1h-1zM494 230h1v1h-1zM494 223h1V237h-1zM493 230h1v1h-1zM495 227h1v1h-1zM495 225h1V236h-1zM494 227h1v1h-1zM496 232h1v1h-1zM496 229h1V243h-1zM495 231h1v1h-1zM497 241h1v1h-1zM497 233h1V252h-1zM496 240h1v1h-1zM498 251h1v1h-1zM498 248h1V265h-1zM497 249h1v1h-1zM499 261h1v1h-1zM499 258h1V270h-1zM498 260h1v1h-1zM500 264h1v1h-1zM500 244h1V268h-1zM499 267h1v1h-1zM501 245h1v1h-1zM501 226h1V249h-1zM500 248h1v1h-1zM502 226h1v1h-1zM502 218h1V231h-1zM501 230h1v1h-1zM503 219h1v1h-1zM503 212h1V224h-1zM502 220h1v1h-1zM504 215h1v1h-1zM504 213h1V255h-1zM503 214h1v1h-1zM505 232h1v1h-1zM505 223h1V248h-1zM504 229h1v1h-1zM506 247h1v1h-1zM506 243h1V263h-1zM505 245h1v1h-1zM507 261h1v1h-1zM508 251h1V266h-1zM507 259h1v1h-1zM509 254h1v1h-1zM509 236h1V261h-1zM508 257h1v1h-1zM510 237h1v1h-1zM510 224h1V241h-1zM509 240h1v1h-1zM511 225h1v1h-1zM511 216h1V232h-1zM510 225h1v1h-1zM512 221h1v1h-1zM512 214h1V226h-1zM511 222h1v1h-1zM513 218h1v1h-1zM513 207h1V225h-1zM512 218h1v1h-1zM514 219h1v1h-1zM514 213h1V228h-1zM513 218h1v1h-1zM515 225h1v1h-1zM515 212h1V228h-1zM514 224h1v1h-1zM516 217h1v1h-1zM516 201h1V221h-1zM515 220h1v1h-1zM517 205h1v1h-1zM517 202h1V215h-1zM516 204h1v1h-1zM518 212h1v1h-1zM518 204h1V222h-1zM517 211h1v1h-1zM519 219h1v1h-1zM519 207h1V224h-1zM518 218h1v1h-1zM520 214h1v1h-1zM520 203h1V217h-1zM519 216h1v1h-1zM521 205h1v1h-1zM521 202h1V239h-1zM520 206h1v1h-1zM522 238h1v1h-1zM522 228h1V265h-1zM521 230h1v1h-1zM523 257h1v1h-1zM523 253h1V274h-1zM522 254h1v1h-1zM524 273h1v1h-1zM524 238h1V274h-1zM523 270h1v1h-1zM525 255h1v1h-1zM526 237h1V261h-1zM525 258h1v1h-1zM527 239h1v1h-1zM527 229h1V263h-1zM526 241h1v1h-1zM528 232h1v1h-1zM528 227h1V239h-1zM527 234h1v1h-1zM529 231h1v1h-1zM529 227h1V252h-1zM528 228h1v1h-1zM530 251h1v1h-1zM530 246h1V259h-1zM529 247h1v1h-1zM531 251h1v1h-1zM531 239h1V255h-1zM530 253h1v1h-1zM532 239h1v1h-1zM532 228h1V242h-1zM531 241h1v1h-1zM533 229h1v1h-1zM533 218h1V234h-1zM532 231h1v1h-1zM534 221h1v1h-1zM534 215h1V228h-1zM533 223h1v1h-1zM535 223h1v1h-1zM535 218h1V237h-1zM534 221h1v1h-1zM536 235h1v1h-1zM536 231h1V254h-1zM535 233h1v1h-1zM537 246h1v1h-1zM537 243h1V258h-1zM536 244h1v1h-1zM538 256h1v1h-1zM538 233h1V260h-1zM537 254h1v1h-1zM539 253h1v1h-1zM539 242h1V258h-1zM538 255h1v1h-1zM540 245h1v1h-1zM540 235h1V249h-1zM539 247h1v1h-1zM541 237h1v1h-1zM541 224h1V247h-1zM540 238h1v1h-1zM542 226h1v1h-1zM542 213h1V249h-1zM541 228h1v1h-1zM543 214h1v1h-1zM543 205h1V224h-1zM542 216h1v1h-1zM544 218h1v1h-1zM545 214h1V235h-1zM544 217h1v1h-1zM546 226h1v1h-1zM546 215h1V227h-1zM545 225h1v1h-1zM547 216h1v1h-1zM547 205h1V219h-1zM546 218h1v1h-1zM548 206h1v1h-1zM548 198h1V209h-1zM547 208h1v1h-1zM549 200h1v1h-1zM549 198h1V219h-1zM548 198h1v1h-1zM550 214h1v1h-1zM550 211h1V224h-1zM549 211h1v1h-1zM551 220h1v1h-1zM551 205h1V224h-1zM550 223h1v1h-1zM552 207h1v1h-1zM552 190h1V214h-1zM551 209h1v1h-1zM553 193h1v1h-1zM553 190h1V199h-1zM552 195h1v1h-1zM554 195h1v1h-1zM554 191h1V204h-1zM553 194h1v1h-1zM555 199h1v1h-1zM555 193h1V201h-1zM554 198h1v1h-1zM556 199h1v1h-1zM556 190h1V202h-1zM555 200h1v1h-1zM557 195h1v1h-1zM557 187h1V202h-1zM556 196h1v1h-1zM558 191h1v1h-1zM558 185h1V199h-1zM557 192h1v1h-1zM559 187h1v1h-1zM559 184h1V195h-1zM558 188h1v1h-1zM560 186h1v1h-1zM560 185h1V203h-1zM559 186h1v1h-1zM561 185h1v1h-1zM561 184h1V202h-1zM560 185h1v1h-1zM562 193h1v1h-1zM563 189h1V205h-1zM562 192h1v1h-1zM564 204h1v1h-1zM564 200h1V213h-1zM563 202h1v1h-1zM565 203h1v1h-1zM565 155h1V212h-1zM564 211h1v1h-1zM566 157h1v1h-1zM566 148h1V185h-1zM565 165h1v1h-1zM567 148h1v1h-1zM567 136h1V154h-1zM566 149h1v1h-1zM568 144h1v1h-1zM568 144h1V175h-1zM567 145h1v1h-1zM569 173h1v1h-1zM569 156h1V190h-1zM568 170h1v1h-1zM570 157h1v1h-1zM570 139h1V161h-1zM569 160h1v1h-1zM571 141h1v1h-1zM571 129h1V146h-1zM570 144h1v1h-1zM572 131h1v1h-1zM572 129h1V165h-1zM571 129h1v1h-1zM573 141h1v1h-1zM573 138h1V165h-1zM572 139h1v1h-1zM574 146h1v1h-1zM574 134h1V160h-1zM573 147h1v1h-1zM575 135h1v1h-1zM575 125h1V139h-1zM574 137h1v1h-1zM576 125h1v1h-1zM576 125h1V179h-1zM575 127h1v1h-1zM577 174h1v1h-1zM577 138h1V178h-1zM576 176h1v1h-1zM578 165h1v1h-1zM578 136h1V169h-1zM577 167h1v1h-1zM579 156h1v1h-1zM579 155h1V179h-1zM578 158h1v1h-1zM580 160h1v1h-1zM581 156h1V181h-1zM580 159h1v1h-1zM582 167h1v1h-1zM582 163h1V181h-1zM581 166h1v1h-1zM583 180h1v1h-1zM583 171h1V195h-1zM582 178h1v1h-1zM584 193h1v1h-1zM584 179h1V195h-1zM583 193h1v1h-1zM585 180h1v1h-1zM585 164h1V184h-1zM584 182h1v1h-1zM586 167h1v1h-1zM586 160h1V204h-1zM585 170h1v1h-1zM587 164h1v1h-1zM587 160h1V170h-1zM586 164h1v1h-1zM588 162h1v1h-1zM588 161h1V177h-1zM587 162h1v1h-1zM589 175h1v1h-1zM589 169h1V212h-1zM588 170h1v1h-1zM590 211h1v1h-1zM590 202h1V241h-1zM589 203h1v1h-1zM591 231h1v1h-1zM591 204h1V236h-1zM590 235h1v1h-1zM592 205h1v1h-1zM592 197h1V213h-1zM591 210h1v1h-1zM593 211h1v1h-1zM593 206h1V223h-1zM592 207h1v1h-1zM594 213h1v1h-1zM594 194h1V217h-1zM593 215h1v1h-1zM595 197h1v1h-1zM595 189h1V204h-1zM594 199h1v1h-1zM596 198h1v1h-1zM596 195h1V212h-1zM595 196h1v1h-1zM597 209h1v1h-1zM597 207h1V227h-1zM596 207h1v1h-1zM598 225h1v1h-1zM599 221h1V244h-1zM598 222h1v1h-1zM600 242h1v1h-1zM600 204h1V244h-1zM599 239h1v1h-1zM601 205h1v1h-1zM601 190h1V212h-1zM600 211h1v1h-1zM602 192h1v1h-1zM602 172h1V196h-1zM601 194h1v1h-1zM603 180h1v1h-1zM603 168h1V184h-1zM602 182h1v1h-1zM604 169h1v1h-1zM604 157h1V171h-1zM603 170h1v1h-1zM605 158h1v1h-1zM605 153h1V164h-1zM604 160h1v1h-1zM606 159h1v1h-1zM606 154h1V168h-1zM605 157h1v1h-1zM607 165h1v1h-1zM607 160h1V174h-1zM606 164h1v1h-1zM608 172h1v1h-1zM608 166h1V183h-1zM607 171h1v1h-1zM609 177h1v1h-1zM609 172h1V185h-1zM608 176h1v1h-1zM610 183h1v1h-1zM610 162h1V185h-1zM609 182h1v1h-1zM611 162h1v1h-1zM611 154h1V176h-1zM610 167h1v1h-1zM612 157h1v1h-1zM612 152h1V163h-1zM611 158h1v1h-1zM613 155h1v1h-1zM613 152h1V174h-1zM612 155h1v1h-1zM614 156h1v1h-1zM614 151h1V166h-1zM613 155h1v1h-1zM615 161h1v1h-1zM615 157h1V173h-1zM614 160h1v1h-1zM616 167h1v1h-1zM617 162h1V176h-1zM616 166h1v1h-1zM618 173h1v1h-1zM618 162h1V176h-1zM617 172h1v1h-1zM619 163h1v1h-1zM619 146h1V168h-1zM618 166h1v1h-1zM620 148h1v1h-1zM620 138h1V151h-1zM619 149h1v1h-1zM621 141h1v1h-1zM621 134h1V146h-1zM620 142h1v1h-1zM622 137h1v1h-1zM622 135h1V144h-1zM621 136h1v1h-1zM623 138h1v1h-1zM623 134h1V145h-1zM622 138h1v1h-1zM624 140h1v1h-1zM624 136h1V150h-1zM623 140h1v1h-1zM625 145h1v1h-1zM625 140h1V158h-1zM624 143h1v1h-1zM626 151h1v1h-1zM626 146h1V161h-1zM625 150h1v1h-1zM627 158h1v1h-1zM627 150h1V164h-1zM626 157h1v1h-1zM628 157h1v1h-1zM628 149h1V160h-1zM627 158h1v1h-1zM629 153h1v1h-1zM629 145h1V176h-1zM628 154h1v1h-1zM630 149h1v1h-1zM630 145h1V157h-1zM629 150h1v1h-1zM631 151h1v1h-1zM631 146h1V189h-1zM630 147h1v1h-1zM632 171h1v1h-1zM632 157h1V183h-1zM631 170h1v1h-1zM633 179h1v1h-1zM633 175h1V189h-1zM632 178h1v1h-1zM634 187h1v1h-1zM635 185h1V220h-1zM634 186h1v1h-1zM636 199h1v1h-1zM636 195h1V212h-1zM635 197h1v1h-1zM637 210h1v1h-1zM637 206h1V223h-1zM636 208h1v1h-1zM638 221h1v1h-1zM638 218h1V233h-1zM637 219h1v1h-1zM639 232h1v1h-1zM639 218h1V234h-1zM638 230h1v1h-1zM640 219h1v1h-1zM640 200h1V228h-1zM639 222h1v1h-1zM641 202h1v1h-1zM641 187h1V206h-1zM640 204h1v1h-1zM642 191h1v1h-1zM642 183h1V195h-1zM641 193h1v1h-1zM643 190h1v1h-1zM643 186h1V203h-1zM642 186h1v1h-1zM644 199h1v1h-1zM644 189h1V206h-1zM643 201h1v1h-1zM645 190h1v1h-1zM645 180h1V193h-1zM644 191h1v1h-1zM646 182h1v1h-1zM646 172h1V187h-1zM645 183h1v1h-1zM647 175h1v1h-1zM647 166h1V180h-1zM646 176h1v1h-1zM648 169h1v1h-1zM648 163h1V177h-1zM647 170h1v1h-1zM649 167h1v1h-1zM649 162h1V173h-1zM648 167h1v1h-1zM650 165h1v1h-1zM650 162h1V171h-1zM649 166h1v1h-1zM651 163h1v1h-1zM651 161h1V179h-1zM650 164h1v1h-1zM652 177h1v1h-1zM653 173h1V196h-1zM652 174h1v1h-1zM654 195h1v1h-1zM654 187h1V199h-1zM653 192h1v1h-1zM655 191h1v1h-1zM655 181h1V194h-1zM654 193h1v1h-1zM656 183h1v1h-1zM656 183h1V193h-1zM655 185h1v1h-1zM657 191h1v1h-1zM657 187h1V202h-1zM656 190h1v1h-1zM658 200h1v1h-1zM658 187h1V211h-1zM657 199h1v1h-1zM659 209h1v1h-1zM659 200h1V212h-1zM658 207h1v1h-1zM660 206h1v1h-1zM660 188h1V208h-1zM659 207h1v1h-1zM661 198h1v1h-1zM661 191h1V202h-1zM660 199h1v1h-1zM662 194h1v1h-1zM662 192h1V207h-1zM661 194h1v1h-1zM663 200h1v1h-1zM663 196h1V209h-1zM662 199h1v1h-1zM664 205h1v1h-1zM664 191h1V209h-1zM663 204h1v1h-1zM665 206h1v1h-1zM665 197h1V209h-1zM664 207h1v1h-1zM666 200h1v1h-1zM666 191h1V206h-1zM665 201h1v1h-1zM667 194h1v1h-1zM667 183h1V199h-1zM666 195h1v1h-1zM668 187h1v1h-1zM668 171h1V192h-1zM667 188h1v1h-1zM669 180h1v1h-1zM669 170h1V187h-1zM668 181h1v1h-1zM670 175h1v1h-1zM671 168h1V182h-1zM670 176h1v1h-1zM672 173h1v1h-1zM672 168h1V179h-1zM671 173h1v1h-1zM673 170h1v1h-1zM673 168h1V176h-1zM672 170h1v1h-1zM674 169h1v1h-1zM674 169h1V177h-1zM673 169h1v1h-1zM675 170h1v1h-1zM675 169h1V182h-1zM674 170h1v1h-1zM676 179h1v1h-1zM676 177h1V192h-1zM675 177h1v1h-1zM677 189h1v1h-1zM677 177h1V196h-1zM676 187h1v1h-1zM678 189h1v1h-1zM678 175h1V193h-1zM677 191h1v1h-1zM679 181h1v1h-1zM679 171h1V186h-1zM678 182h1v1h-1zM680 175h1v1h-1zM680 169h1V181h-1zM679 176h1v1h-1zM681 171h1v1h-1zM681 169h1V193h-1zM680 171h1v1h-1zM682 186h1v1h-1zM682 177h1V203h-1zM681 184h1v1h-1zM683 202h1v1h-1zM683 192h1V207h-1zM682 199h1v1h-1zM684 196h1v1h-1zM684 179h1V200h-1zM683 198h1v1h-1zM685 185h1v1h-1zM685 174h1V191h-1zM684 186h1v1h-1zM686 177h1v1h-1zM686 172h1V192h-1zM685 179h1v1h-1zM687 173h1v1h-1zM687 171h1V182h-1zM686 173h1v1h-1zM688 177h1v1h-1zM689 171h1V187h-1zM688 177h1v1h-1zM690 182h1v1h-1zM690 178h1V189h-1zM689 181h1v1h-1zM691 186h1v1h-1zM691 179h1V189h-1zM690 185h1v1h-1zM692 184h1v1h-1zM692 175h1V188h-1zM691 185h1v1h-1zM693 177h1v1h-1zM693 159h1V181h-1zM692 178h1v1h-1zM694 169h1v1h-1zM694 166h1V185h-1zM693 171h1v1h-1zM695 178h1v1h-1zM695 148h1V183h-1zM694 182h1v1h-1zM696 157h1v1h-1zM696 143h1V161h-1zM695 160h1v1h-1zM697 145h1v1h-1zM697 138h1V150h-1zM696 146h1v1h-1zM698 142h1v1h-1zM698 139h1V151h-1zM697 140h1v1h-1zM699 149h1v1h-1zM699 136h1V156h-1zM698 147h1v1h-1zM700 155h1v1h-1zM700 145h1V156h-1zM699 154h1v1h-1zM701 148h1v1h-1zM701 139h1V153h-1zM700 150h1v1h-1zM702 140h1v1h-1zM702 132h1V146h-1zM701 141h1v1h-1zM703 136h1v1h-1zM703 132h1V142h-1zM702 136h1v1h-1zM704 132h1v1h-1zM704 130h1V141h-1zM703 132h1v1h-1zM705 134h1v1h-1zM705 131h1V143h-1zM704 134h1v1h-1zM706 140h1v1h-1zM707 134h1V153h-1zM706 137h1v1h-1zM708 152h1v1h-1zM708 146h1V159h-1zM707 152h1v1h-1zM709 154h1v1h-1zM709 147h1V163h-1zM708 154h1v1h-1zM710 156h1v1h-1zM710 152h1V170h-1zM709 156h1v1h-1zM711 159h1v1h-1zM711 150h1V171h-1zM710 158h1v1h-1zM712 166h1v1h-1zM712 162h1V176h-1zM711 165h1v1h-1zM713 172h1v1h-1zM713 166h1V182h-1zM712 171h1v1h-1zM714 178h1v1h-1zM714 172h1V186h-1zM713 177h1v1h-1zM715 182h1v1h-1zM715 175h1V187h-1zM714 182h1v1h-1zM716 184h1v1h-1zM716 172h1V185h-1zM715 184h1v1h-1zM717 184h1v1h-1zM717 174h1V187h-1zM716 185h1v1h-1zM718 179h1v1h-1zM718 170h1V184h-1zM717 180h1v1h-1zM719 171h1v1h-1zM719 163h1V181h-1zM718 172h1v1h-1zM720 167h1v1h-1zM720 160h1V174h-1zM719 167h1v1h-1zM721 165h1v1h-1zM721 160h1V171h-1zM720 165h1v1h-1zM722 162h1v1h-1zM722 160h1V174h-1zM721 163h1v1h-1zM723 171h1v1h-1zM723 166h1V188h-1zM722 168h1v1h-1zM724 187h1v1h-1zM724 177h1V189h-1zM723 186h1v1h-1zM725 182h1v1h-1zM726 172h1V188h-1zM725 183h1v1h-1zM727 176h1v1h-1zM727 168h1V186h-1zM726 177h1v1h-1zM728 170h1v1h-1zM728 160h1V176h-1zM727 171h1v1h-1zM729 165h1v1h-1zM729 155h1V171h-1zM728 166h1v1h-1zM730 160h1v1h-1zM730 150h1V170h-1zM729 161h1v1h-1zM731 155h1v1h-1zM731 148h1V162h-1zM730 156h1v1h-1zM732 151h1v1h-1zM732 148h1V159h-1zM731 152h1v1h-1zM733 153h1v1h-1zM733 150h1V166h-1zM732 152h1v1h-1zM734 165h1v1h-1zM734 158h1V170h-1zM733 163h1v1h-1zM735 167h1v1h-1zM735 156h1V171h-1zM734 168h1v1h-1zM736 161h1v1h-1zM736 151h1V166h-1zM735 162h1v1h-1zM737 155h1v1h-1zM737 149h1V162h-1zM736 156h1v1h-1zM738 151h1v1h-1zM738 150h1V160h-1zM737 150h1v1h-1zM739 156h1v1h-1zM739 149h1V166h-1zM738 155h1v1h-1zM740 161h1v1h-1zM740 154h1V167h-1zM739 160h1v1h-1zM741 166h1v1h-1zM741 157h1V167h-1zM740 165h1v1h-1zM742 163h1v1h-1zM742 153h1V167h-1zM741 164h1v1h-1zM743 157h1v1h-1zM744 146h1V163h-1zM743 158h1v1h-1zM745 152h1v1h-1zM745 147h1V160h-1zM744 153h1v1h-1zM746 155h1v1h-1zM746 149h1V159h-1zM745 155h1v1h-1zM747 157h1v1h-1zM747 146h1V160h-1zM746 158h1v1h-1zM748 149h1v1h-1zM748 141h1V161h-1zM747 150h1v1h-1zM749 143h1v1h-1zM749 141h1V151h-1zM748 142h1v1h-1zM750 145h1v1h-1zM750 141h1V158h-1zM749 145h1v1h-1zM751 150h1v1h-1zM751 147h1V160h-1zM750 148h1v1h-1zM752 159h1v1h-1zM752 153h1V167h-1zM751 158h1v1h-1zM753 162h1v1h-1zM753 151h1V170h-1zM752 164h1v1h-1zM754 157h1v1h-1zM754 153h1V169h-1zM753 155h1v1h-1zM755 167h1v1h-1zM755 161h1V175h-1zM754 165h1v1h-1zM756 171h1v1h-1zM756 163h1V178h-1zM755 171h1v1h-1zM757 171h1v1h-1zM757 168h1V181h-1zM756 169h1v1h-1zM758 180h1v1h-1zM758 167h1V184h-1zM757 179h1v1h-1zM759 182h1v1h-1zM759 174h1V186h-1zM758 183h1v1h-1zM760 179h1v1h-1zM760 175h1V185h-1zM759 179h1v1h-1zM761 180h1v1h-1zM762 176h1V192h-1zM761 179h1v1h-1zM763 188h1v1h-1zM763 181h1V215h-1zM762 187h1v1h-1zM764 193h1v1h-1zM764 181h1V201h-1zM763 192h1v1h-1zM765 197h1v1h-1zM765 196h1V215h-1zM764 196h1v1h-1zM766 214h1v1h-1zM766 201h1V227h-1zM765 211h1v1h-1zM767 222h1v1h-1zM767 214h1V227h-1zM766 224h1v1h-1zM768 219h1v1h-1zM768 203h1V228h-1zM767 217h1v1h-1zM769 227h1v1h-1zM769 223h1V257h-1zM768 225h1v1h-1zM770 240h1v1h-1zM770 237h1V275h-1zM769 237h1v1h-1zM771 247h1v1h-1zM771 235h1V302h-1zM770 250h1v1h-1zM772 242h1v1h-1zM772 236h1V267h-1zM771 238h1v1h-1zM773 266h1v1h-1zM773 247h1V287h-1zM772 263h1v1h-1zM774 286h1v1h-1zM774 283h1V322h-1zM773 284h1v1h-1zM775 321h1v1h-1zM775 317h1V353h-1zM774 318h1v1h-1zM776 336h1v1h-1zM776 309h1V359h-1zM775 333h1v1h-1zM777 317h1v1h-1zM777 312h1V336h-1zM776 314h1v1h-1zM778 335h1v1h-1zM778 331h1V379h-1zM777 332h1v1h-1zM779 353h1v1h-1zM780 348h1V371h-1zM779 350h1v1h-1zM781 369h1v1h-1zM781 364h1V395h-1zM780 365h1v1h-1zM782 394h1v1h-1zM782 341h1V396h-1zM781 390h1v1h-1zM783 375h1v1h-1zM783 347h1V379h-1zM782 378h1v1h-1zM784 355h1v1h-1zM784 337h1V360h-1zM783 358h1v1h-1zM785 338h1v1h-1zM785 337h1V355h-1zM784 341h1v1h-1zM786 352h1v1h-1zM786 348h1V367h-1zM785 350h1v1h-1zM787 366h1v1h-1zM787 352h1V384h-1zM786 364h1v1h-1zM788 383h1v1h-1zM788 377h1V402h-1zM787 380h1v1h-1zM789 398h1v1h-1zM789 362h1V405h-1zM788 396h1v1h-1zM790 363h1v1h-1zM790 339h1V375h-1zM789 374h1v1h-1zM791 341h1v1h-1zM791 331h1V348h-1zM790 342h1v1h-1zM792 335h1v1h-1zM792 333h1V351h-1zM791 336h1v1h-1zM793 348h1v1h-1zM793 315h1V388h-1zM792 348h1v1h-1zM794 316h1v1h-1zM794 310h1V323h-1zM793 321h1v1h-1zM795 311h1v1h-1zM795 302h1V338h-1zM794 312h1v1h-1zM796 306h1v1h-1zM796 295h1V310h-1zM795 307h1v1h-1zM797 298h1v1h-1zM798 295h1V309h-1zM797 299h1v1h-1zM799 305h1v1h-1zM799 298h1V316h-1zM798 303h1v1h-1zM800 315h1v1h-1zM800 310h1V322h-1zM799 313h1v1h-1zM801 319h1v1h-1zM801 306h1V321h-1zM800 320h1v1h-1zM802 309h1v1h-1zM802 298h1V312h-1zM801 310h1v1h-1zM803 299h1v1h-1zM803 298h1V309h-1zM802 301h1v1h-1zM804 303h1v1h-1zM804 298h1V329h-1zM803 302h1v1h-1zM805 309h1v1h-1zM805 304h1V328h-1zM804 308h1v1h-1zM806 327h1v1h-1zM806 311h1V352h-1zM805 323h1v1h-1zM807 351h1v1h-1zM807 343h1V360h-1zM806 350h1v1h-1zM808 355h1v1h-1zM808 331h1V365h-1zM807 354h1v1h-1zM809 363h1v1h-1zM809 360h1V375h-1zM808 361h1v1h-1zM810 373h1v1h-1zM810 370h1V426h-1zM809 371h1v1h-1zM811 405h1v1h-1zM811 397h1V412h-1zM810 398h1v1h-1zM812 399h1v1h-1zM812 390h1V412h-1zM811 402h1v1h-1zM813 409h1v1h-1zM813 401h1V437h-1zM812 403h1v1h-1zM814 411h1v1h-1zM814 361h1V426h-1zM813 425h1v1h-1zM815 379h1v1h-1zM816 369h1V398h-1zM815 371h1v1h-1zM817 385h1v1h-1zM817 370h1V391h-1zM816 389h1v1h-1zM818 377h1v1h-1zM818 372h1V397h-1zM817 373h1v1h-1zM819 394h1v1h-1zM819 363h1V397h-1zM818 394h1v1h-1zM820 365h1v1h-1zM820 352h1V368h-1zM819 367h1v1h-1zM821 362h1v1h-1zM821 355h1V388h-1zM820 356h1v1h-1zM822 387h1v1h-1zM822 381h1V394h-1zM821 387h1v1h-1zM823 385h1v1h-1zM823 367h1V408h-1zM822 389h1v1h-1zM824 369h1v1h-1zM824 366h1V406h-1zM823 371h1v1h-1zM825 405h1v1h-1zM825 395h1V439h-1zM824 397h1v1h-1zM826 408h1v1h-1zM826 397h1V411h-1zM825 410h1v1h-1zM827 402h1v1h-1zM827 385h1V424h-1zM826 398h1v1h-1zM828 423h1v1h-1zM828 396h1V455h-1zM827 419h1v1h-1zM829 452h1v1h-1zM829 442h1V459h-1zM828 447h1v1h-1zM830 445h1v1h-1zM830 433h1V474h-1zM829 448h1v1h-1zM831 438h1v1h-1zM831 432h1V474h-1zM830 435h1v1h-1zM832 453h1v1h-1zM832 438h1V457h-1zM831 455h1v1h-1zM833 440h1v1h-1zM834 431h1V504h-1zM833 442h1v1h-1zM835 459h1v1h-1zM835 446h1V523h-1zM834 448h1v1h-1zM836 496h1v1h-1zM836 490h1V528h-1zM835 492h1v1h-1zM837 519h1v1h-1zM837 463h1V529h-1zM836 515h1v1h-1zM838 465h1v1h-1zM838 459h1V517h-1zM837 478h1v1h-1zM839 515h1v1h-1zM839 502h1V541h-1zM838 505h1v1h-1zM840 522h1v1h-1zM840 493h1V532h-1zM839 527h1v1h-1zM841 493h1v1h-1zM841 454h1V500h-1zM840 498h1v1h-1zM842 456h1v1h-1zM842 447h1V462h-1zM841 461h1v1h-1zM843 447h1v1h-1z"/>
<g stroke="#a5282c" fill="none" stroke-linecap="butt">
<line x1="566.5" y1="124.5" x2="793" y2="148.5" stroke-width="2.0"/>
<line x1="481" y1="291" x2="795" y2="182" stroke-width="2.0"/>
<line x1="749.7" y1="139.4" x2="860.5" y2="470" stroke-width="2.0" stroke-dasharray="21.6 6.43"/>
<line x1="109.8" y1="556.8" x2="860" y2="370.7" stroke-width="2.0" stroke-dasharray="6.2 6.81"/>
</g>
<g fill="#a5282c" font-weight="bold" font-size="16">
<text x="263" y="539" textLength="236" lengthAdjust="spacingAndGlyphs">Uptrend From '03 and '09 Lows</text>
<text x="670" y="508.5" textLength="137" lengthAdjust="spacingAndGlyphs">Failed Breakdown</text>
<path d="M810.5 502.3h10.5v-3.2l8.6 4.8-8.6 4.8v-3.2h-10.5z"/>
<text x="707" y="911" textLength="142" lengthAdjust="spacingAndGlyphs">Bullish Divergence</text>
</g>
<g shape-rendering="crispEdges" fill="#000"><rect x="16" y="725" width="843" height="1"/><rect x="16" y="838" width="843" height="1"/></g>
<defs><clipPath id="cu"><rect x="0" y="680" width="922" height="45.5"/></clipPath><clipPath id="cl"><rect x="0" y="838.5" width="922" height="90"/></clipPath></defs>
<path fill="none" stroke="#1a1a1a" stroke-width="1.05" stroke-linejoin="round" stroke-linecap="round" d="M16.2 808.6L17.5 805.3L18.7 813.6L20.5 791.0L21.7 794.9L22.5 788.6L24.5 786.0L26.5 766.0L28.0 789.9L29.0 784.9L30.5 802.4L31.2 786.0L32.5 809.9L33.7 784.9L35.0 806.0L37.0 784.9L38.0 781.0L39.5 804.9L41.2 784.9L42.5 779.4L44.2 782.4L45.5 802.4L47.0 823.6L48.7 827.8L50.0 827.3M51.4 841.0L52.4 814.3L53.7 837.3L55.0 828.6L56.4 827.3L58.7 817.3L60.4 794.9L62.0 807.3L63.4 819.8L65.0 801.0L66.2 799.9L68.0 786.0L68.7 789.9L70.4 762.4L72.4 747.4L74.0 742.4L75.4 776.0L77.0 747.4L78.0 752.4L79.4 743.7L81.4 751.0L83.0 770.0L84.4 779.4L86.2 765.0L87.4 768.6L88.7 758.7L90.4 749.4L91.4 767.4L93.0 765.0L95.0 746.0L97.4 736.0L100.0 734.4L101.4 727.4L103.0 750.4L104.4 748.7L106.0 787.4L107.0 789.9L108.6 808.0L110.0 787.9L111.4 786.0L112.9 757.4L113.6 744.4M115.2 723.7L117.4 744.4L118.9 732.4L120.4 730.0M122.4 709.2L123.6 728.7M125.4 715.0L126.4 735.0L127.4 785.0L127.9 812.3L128.7 788.6L130.0 799.9L131.2 784.9L132.5 807.3L133.7 809.0L135.5 794.9L136.7 787.4L138.0 786.0L139.5 773.0L140.7 778.6L142.0 787.4L143.5 776.0L145.0 768.6L146.0 781.0L147.5 767.4L148.7 778.6L150.0 772.4L151.2 774.9L152.5 796.0L154.0 799.9L155.5 809.0L157.0 782.4L158.5 767.4L160.0 778.6L161.5 791.0L163.0 766.0L164.2 803.0L165.5 778.6L167.5 765.0L170.0 768.6L171.5 758.7L173.2 752.0L174.5 755.0L176.4 776.0L177.4 762.4L178.4 763.7L180.4 744.4L181.4 779.4L182.4 751.0L184.4 775.0L185.7 759.4L187.0 766.0L189.0 756.0L191.4 742.4L193.0 753.7L195.0 765.0L196.2 764.4L197.7 773.6L200.0 750.0L201.4 743.7L203.0 733.7M205.4 719.5L206.4 756.0L208.0 751.0L209.4 761.0L211.0 731.0M215.4 708.2L216.4 730.0L218.0 757.4L219.0 770.0L220.4 760.0L221.4 790.0L222.4 806.6L223.6 777.4L225.4 788.6L227.4 778.6L229.4 766.0L231.4 778.6L233.0 770.0L234.9 745.0L237.4 731.2L238.9 745.0L239.9 736.2L241.3 777.4L242.3 756.2L243.5 783.6L245.0 778.6L247.0 787.4L249.0 759.9L250.0 768.6L252.0 746.2L253.5 753.7L254.5 748.7L255.5 757.4L257.5 747.4L259.5 726.2L261.0 735.0L262.5 729.4L264.0 746.2L265.5 757.4L267.0 744.4L268.5 771.0L269.5 767.4L270.5 777.4L271.5 775.0L273.0 792.4L274.5 796.6L276.2 785.0L277.5 782.4L278.5 791.0L280.0 782.4L282.0 755.0L283.0 756.2L284.4 735.0L286.0 747.4L287.4 772.4L288.7 790.6L290.0 771.0L291.2 790.6L293.0 770.0L295.0 757.4L296.4 743.7L297.7 727.0L299.0 748.7L300.0 755.0L301.2 749.4L302.4 768.6L304.0 754.4L305.0 756.2L306.4 767.4L308.0 751.2L309.0 752.4L310.4 738.0L312.4 762.4L313.4 755.4L314.4 758.7L315.7 777.4L316.4 770.0L318.0 790.0L319.4 800.0L321.4 823.6L322.4 808.6L323.6 822.3L324.9 824.0L326.4 810.0L327.4 816.0L328.4 813.6L329.6 828.6L331.4 785.0L332.4 791.0L333.6 784.4L334.9 791.0L336.9 810.0L338.4 825.0L339.4 830.0L340.9 805.0L341.9 788.6L342.9 790.0L343.9 783.6L345.4 778.6L346.4 782.4L347.6 801.0L348.4 775.0L349.4 760.0L351.1 771.0L352.4 768.6L353.6 758.0L355.4 782.4L356.4 781.0L358.0 767.4L360.0 770.0L362.0 751.2L364.0 735.0L366.0 725.0M367.5 719.5L368.5 732.4L370.0 760.0L371.5 764.4L373.0 752.4L375.0 731.2M376.5 721.2L378.0 726.2M385.5 700.0L386.5 753.7L387.5 755.4L389.5 738.7L391.5 730.0L392.5 728.7L394.0 762.4L395.0 764.4L396.4 771.6L398.4 747.4L400.4 730.0M402.4 713.2L403.7 751.2L404.9 741.2L405.9 739.4M408.7 716.2L410.4 726.2M420.4 707.0L421.2 760.0L422.4 773.6L423.4 771.0L424.9 794.4L426.4 792.9L427.9 790.6L429.4 807.3L430.7 818.6L432.4 802.4L433.9 826.0M446.4 844.8L447.9 833.0M449.1 843.5L450.4 820.6L451.9 827.3L453.1 831.0L454.4 823.6L455.9 812.3L457.4 809.0L458.9 794.0L460.9 793.0L462.4 799.9L463.9 793.6L465.9 786.0L466.9 772.4L467.6 781.0L468.9 760.0L470.4 748.7L471.6 742.4L473.0 753.7L474.5 771.0L475.5 785.0L477.5 760.0L479.5 752.4L480.5 758.7L482.0 750.4L483.5 755.0L484.5 771.0L486.0 760.0L487.5 780.4L489.0 757.4L490.5 746.2L491.5 743.2L493.0 757.4L494.5 756.2L496.0 760.0L497.0 762.4L498.5 786.0L500.0 760.0L501.5 756.2L503.5 745.7L505.0 768.6L506.5 782.4L507.5 789.4L509.5 761.2L511.5 756.2L513.0 758.7L514.5 763.7L516.0 745.7L517.5 748.7L519.0 745.0L520.5 742.0L521.5 794.9L522.5 802.4L523.5 810.4L524.4 793.6L525.4 802.4L526.9 781.0L527.9 772.4L529.4 796.9L530.4 781.0L532.4 772.0L533.9 766.0L535.9 793.6L537.4 791.0L538.9 786.0L539.9 790.0L541.4 782.0L542.4 787.4L543.9 760.0L544.9 757.4L546.4 765.0L547.4 764.4L548.9 743.2L550.4 771.6L552.4 745.0L553.9 753.0L555.4 745.7L556.9 740.7L558.4 747.0L559.9 758.7L560.9 747.4L561.9 760.0L562.9 761.2L563.9 780.4L564.9 750.0L565.6 736.2M566.6 720.7L567.9 740.4L569.4 731.2M571.4 715.0L572.9 729.4L574.1 725.0M575.4 722.5L576.4 779.9L577.9 773.6L579.9 772.0L581.4 776.0L582.4 791.0L583.9 802.4L584.9 788.6L586.2 778.6L587.5 772.4L589.0 802.4L590.0 814.8L591.5 822.3L593.0 812.3L594.5 806.0L596.0 801.0L597.5 823.6L598.5 826.6L600.0 794.9L601.0 789.9L602.5 770.0L604.5 753.0L606.0 761.2L607.5 749.4L608.5 757.4L609.5 779.9L611.0 761.2L612.0 765.0L613.5 755.0L615.0 768.6L616.0 766.0L617.5 773.6L619.0 760.0L620.5 737.0L622.0 751.2L623.5 749.4L624.5 753.7L626.0 771.0L627.5 770.0L629.0 765.0L630.2 762.4L631.4 792.4L632.9 807.3L634.4 819.8M636.4 839.8L637.4 833.6M638.4 843.5L639.4 818.6L640.4 821.8L641.4 804.9L642.9 786.0L643.9 792.4L645.4 778.6L646.9 767.0L648.9 770.0L650.4 767.4L651.4 757.0L652.9 786.0L654.4 794.9L655.4 791.0L656.9 804.9L658.4 816.8L659.9 807.3L661.9 792.9L663.4 806.6L665.4 792.4L666.9 782.4L668.9 765.0L670.9 753.7L672.4 747.0L673.9 760.0L674.9 755.0L676.4 790.0L677.9 778.6L679.4 772.4L680.4 755.4L681.9 787.4L683.6 804.9L685.4 779.9L686.9 767.4L688.4 765.0L690.4 790.0L691.9 765.0L692.9 760.0L693.6 781.0L694.9 755.0L695.9 741.2L697.4 732.0L698.9 751.2L699.9 744.4L701.5 744.4L703.0 750.0L704.5 739.4L705.7 737.0L707.0 761.2L708.0 773.6L709.0 772.4L710.5 783.6L712.0 792.4L713.5 809.9L715.0 814.8L716.0 812.3L717.0 817.3L718.5 794.9L719.5 787.4L720.5 792.4L722.0 779.9L723.0 776.0L724.5 807.3L726.0 789.9L727.5 777.4L729.0 770.0L730.5 761.2L732.0 758.7L733.5 784.9L735.0 766.0L736.0 771.0L737.5 761.2L738.5 758.0L740.0 772.4L741.5 782.4L743.0 772.4L745.0 757.4L746.4 766.0L747.9 747.4L749.4 753.7L750.9 772.4L751.9 789.9L753.2 783.6L754.4 797.4L755.4 807.3L756.9 808.6L758.4 826.6L759.4 807.9L760.9 824.8L762.4 813.6L763.9 821.0L764.9 829.8M789.9 844.8L790.9 836.0L792.4 817.3L793.9 792.4L795.4 784.9L796.9 779.9L798.4 776.0L799.4 779.9L800.4 777.4L801.4 784.9L802.5 779.0L804.5 781.7L805.7 804.6L807.0 821.2L808.3 835.2M813.4 858.4L814.0 836.5L814.5 821.2L815.6 819.3L816.3 822.5L817.9 819.3L819.4 816.7L820.0 798.3L820.8 790.3L821.7 798.3L822.4 813.6L823.5 802.0L824.5 811.0L825.8 825.7L827.0 818.7L828.3 823.8M830.9 839.7L832.4 821.2L833.4 825.0M835.4 846.7L837.5 824.4M839.5 841.0L840.5 819.9L841.6 814.8L842.6 793.8L843.9 792.1"/><path fill="none" stroke="#b42c2c" stroke-width="1.05" stroke-linejoin="round" stroke-linecap="round" d="M113.6 744.4L115.2 723.7M120.4 730.0L122.4 709.2M123.6 728.7L125.4 715.0M203.0 733.7L204.4 720.0L205.4 719.5M211.0 731.0L213.0 716.0L214.4 708.7L215.4 708.2M366.0 725.0L367.5 719.5M375.0 731.2L376.5 721.2M378.0 726.2L379.5 707.5L381.5 692.5L383.5 689.2L384.5 709.5L385.5 700.0M400.4 730.0L402.4 713.2M405.9 739.4L407.4 722.5L408.7 716.2M410.4 726.2L411.9 710.0L413.4 702.0L414.4 722.5L415.4 707.0L416.9 720.5L418.4 708.7L420.4 707.0M565.6 736.2L566.6 720.7M569.4 731.2L571.4 715.0M574.1 725.0L575.4 722.5"/><path fill="none" stroke="#0b870b" stroke-width="1.05" stroke-linejoin="round" stroke-linecap="round" d="M50.0 827.3L51.4 841.0M433.9 826.0L434.9 844.8L436.1 857.3L437.4 847.3L438.9 858.5L440.4 862.8L441.4 849.8L442.4 861.0L443.9 847.3L445.1 855.5L446.4 844.8M447.9 833.0L449.1 843.5M634.4 819.8L636.4 839.8M637.4 833.6L638.4 843.5M764.9 829.8L765.9 847.3L766.9 852.8L768.4 857.3L769.9 867.3L770.9 861.0L772.4 877.3L773.9 886.0L775.4 884.8L776.9 889.8L778.4 888.5L779.9 896.0L781.4 884.8L782.4 869.8L783.4 848.5L784.4 847.3L785.4 849.8L786.9 853.5L787.9 851.0L788.9 862.3L789.9 844.8M808.3 835.2L810.2 849.3L812.1 855.6L813.4 858.4M828.3 823.8L829.6 842.9L830.9 839.7M833.4 825.0L835.4 846.7M837.5 824.4L839.5 841.0"/>
<g stroke="#a5282c" fill="none" stroke-width="2.1" stroke-linejoin="round">
<line x1="742.4" y1="742.4" x2="852" y2="807.8"/>
<polyline points="779.4,897.2 815.9,858.4 845,844.8"/>
</g>
<g fill="#666" font-size="11">
<text x="863.5" y="35.9" textLength="17.1" lengthAdjust="spacingAndGlyphs">160</text>
<text x="863.5" y="54.0" textLength="17.1" lengthAdjust="spacingAndGlyphs">150</text>
<text x="863.5" y="73.4" textLength="17.1" lengthAdjust="spacingAndGlyphs">140</text>
<text x="863.5" y="94.2" textLength="17.1" lengthAdjust="spacingAndGlyphs">130</text>
<text x="863.5" y="116.7" textLength="17.1" lengthAdjust="spacingAndGlyphs">120</text>
<text x="863.5" y="141.1" textLength="17.1" lengthAdjust="spacingAndGlyphs">110</text>
<text x="863.5" y="167.9" textLength="17.1" lengthAdjust="spacingAndGlyphs">100</text>
<text x="863.5" y="197.5" textLength="11.4" lengthAdjust="spacingAndGlyphs">90</text>
<text x="863.5" y="268.1" textLength="11.4" lengthAdjust="spacingAndGlyphs">70</text>
<text x="863.5" y="311.4" textLength="11.4" lengthAdjust="spacingAndGlyphs">60</text>
<text x="863.5" y="362.6" textLength="11.4" lengthAdjust="spacingAndGlyphs">50</text>
<text x="863.5" y="425.3" textLength="11.4" lengthAdjust="spacingAndGlyphs">40</text>
<text x="863.5" y="506.1" textLength="11.4" lengthAdjust="spacingAndGlyphs">30</text>
<text x="863.5" y="620.0" textLength="11.4" lengthAdjust="spacingAndGlyphs">20</text>
<text x="863.5" y="701.5" textLength="11.4" lengthAdjust="spacingAndGlyphs">80</text>
<text x="863.5" y="729.8" textLength="11.4" lengthAdjust="spacingAndGlyphs">70</text>
<text x="863.5" y="758.0" textLength="11.4" lengthAdjust="spacingAndGlyphs">60</text>
<text x="863.5" y="786.3" textLength="11.4" lengthAdjust="spacingAndGlyphs">50</text>
<text x="863.5" y="814.5" textLength="11.4" lengthAdjust="spacingAndGlyphs">40</text>
<text x="863.5" y="842.8" textLength="11.4" lengthAdjust="spacingAndGlyphs">30</text>
<text x="863.5" y="871.0" textLength="11.4" lengthAdjust="spacingAndGlyphs">20</text>
<text x="863.5" y="899.3" textLength="11.4" lengthAdjust="spacingAndGlyphs">10</text>
<text x="61.0" y="934" textLength="11.4" lengthAdjust="spacingAndGlyphs">02</text>
<text x="116.2" y="934" textLength="11.4" lengthAdjust="spacingAndGlyphs">03</text>
<text x="171.4" y="934" textLength="11.4" lengthAdjust="spacingAndGlyphs">04</text>
<text x="226.6" y="934" textLength="11.4" lengthAdjust="spacingAndGlyphs">05</text>
<text x="281.8" y="934" textLength="11.4" lengthAdjust="spacingAndGlyphs">06</text>
<text x="337.1" y="934" textLength="11.4" lengthAdjust="spacingAndGlyphs">07</text>
<text x="392.3" y="934" textLength="11.4" lengthAdjust="spacingAndGlyphs">08</text>
<text x="447.5" y="934" textLength="11.4" lengthAdjust="spacingAndGlyphs">09</text>
<text x="502.7" y="934" textLength="11.4" lengthAdjust="spacingAndGlyphs">10</text>
<text x="557.9" y="934" textLength="11.4" lengthAdjust="spacingAndGlyphs">11</text>
<text x="613.1" y="934" textLength="11.4" lengthAdjust="spacingAndGlyphs">12</text>
<text x="668.3" y="934" textLength="11.4" lengthAdjust="spacingAndGlyphs">13</text>
<text x="723.5" y="934" textLength="11.4" lengthAdjust="spacingAndGlyphs">14</text>
<text x="778.7" y="934" textLength="11.4" lengthAdjust="spacingAndGlyphs">15</text>
<text x="833.9" y="934" textLength="11.4" lengthAdjust="spacingAndGlyphs">16</text>
</g>
<rect x="863.5" y="221.5" width="33" height="13" rx="3" fill="#e89500" stroke="#b87800"/>
<text x="866" y="232" font-size="11" fill="#111" textLength="27" lengthAdjust="spacingAndGlyphs">79.05</text>
<rect x="863" y="437" width="34" height="14" rx="3" fill="#0000ff"/>
<text x="866" y="448" font-size="11" fill="#fff" textLength="27" lengthAdjust="spacingAndGlyphs">36.57</text>
<rect x="862.5" y="783.5" width="47" height="15" rx="3.5" fill="#fff"/>
<rect x="863" y="784" width="46" height="14" rx="3" fill="#000"/>
<text x="866" y="795" font-size="11" fill="#fff" textLength="38.5" lengthAdjust="spacingAndGlyphs">46.2041</text>
<g font-size="11.6" fill="#1c1c1c">
<text x="17" y="21" textLength="54" lengthAdjust="spacingAndGlyphs">/CL 15 y W</text>
<text x="80.3" y="21" textLength="45.2" lengthAdjust="spacingAndGlyphs">D: 3/7/16</text>
<text x="135.4" y="21" textLength="35.5" lengthAdjust="spacingAndGlyphs">O: 36.2</text>
<text x="180.3" y="21" textLength="40.4" lengthAdjust="spacingAndGlyphs">H: 36.72</text>
<text x="231.2" y="21" textLength="37.5" lengthAdjust="spacingAndGlyphs">L: 36.18</text>
<text x="278.1" y="21" textLength="39.7" lengthAdjust="spacingAndGlyphs">C: 36.57</text>
<text x="327.8" y="21" textLength="32.9" lengthAdjust="spacingAndGlyphs">R: 0.54</text>
<text x="370.2" y="21" fill="#e38d13" textLength="92.3" lengthAdjust="spacingAndGlyphs">SimpleMovingAvg</text>
<text x="466.2" y="21" fill="#e38d13" textLength="75.6" lengthAdjust="spacingAndGlyphs">(CLOSE, 200, 0)</text>
<text x="551.8" y="21" fill="#e38d13" textLength="25.4" lengthAdjust="spacingAndGlyphs">79.05</text>
<text x="17" y="681" textLength="165" lengthAdjust="spacingAndGlyphs">RSI (14, 70, 30, CLOSE, WILDERS)</text>
<text x="191.3" y="681" textLength="37.4" lengthAdjust="spacingAndGlyphs">46.2041</text>
<text x="239.3" y="681" textLength="11.4" lengthAdjust="spacingAndGlyphs">30</text>
<text x="260.3" y="681" textLength="11.4" lengthAdjust="spacingAndGlyphs">70</text>
</g>
<text x="17" y="44" font-size="10" fill="#8a8a8a" textLength="188" lengthAdjust="spacingAndGlyphs">2016 © TD Ameritrade IP Company, Inc.</text>
<g fill="#222" stroke="#222" stroke-width="1.1" stroke-linecap="round">
<path d="M872.7 9.2v5.4h-5.4z" stroke="none"/><path d="M867.4 9.3l3 3" fill="none"/>
<path d="M876.3 18.3h5.4l-5.4 5.4z" stroke="none"/><path d="M878.9 20.9l2.8 2.8" fill="none"/>
<path d="M867.3 18.3c0.6 2.6 3.4 3.2 5 1.2c2 -2.4 3.2 -6 6 -7c1.8 -0.6 3 0.8 3.3 2.6" fill="none"/>
</g>
</svg>
</body></html>
